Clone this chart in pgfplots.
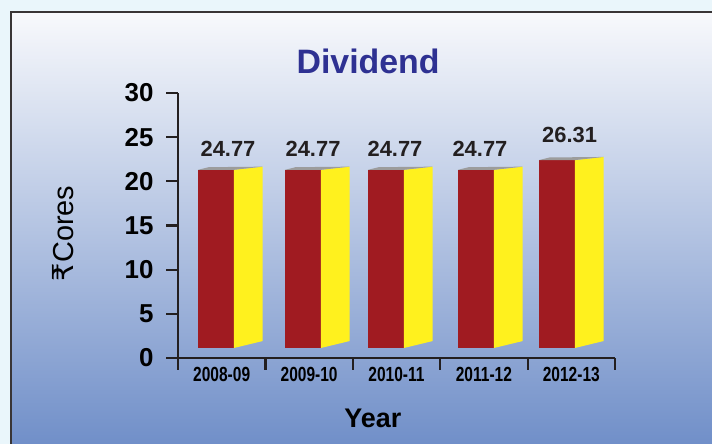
\documentclass[border=0pt]{standalone}
\usepackage{fontspec}
\setmainfont{Liberation Sans}
\newfontfamily\narrowfont[FakeStretch=0.76]{Liberation Sans}
\newfontfamily\symfont{DejaVu Sans}
\usepackage{pgfplots}
\pgfplotsset{compat=1.18}

\definecolor{bgout}{HTML}{EAF6FB}
\definecolor{bgtop}{HTML}{F8F9FC}
\definecolor{bgmid}{HTML}{BAC6E5}
\definecolor{bgbot}{HTML}{6F8EC8}
\definecolor{frontred}{HTML}{A01B21}
\definecolor{sideyellow}{HTML}{FFF11E}
\definecolor{topgrey}{HTML}{9C9C9C}
\definecolor{titleblue}{HTML}{2E3192}
\definecolor{ink}{HTML}{231F20}

\begin{document}
\begin{tikzpicture}[x=1bp,y=1bp]
\useasboundingbox (0,0) rectangle (712,444);
\fill[bgout] (0,0) rectangle (712,444);
\shade[top color=bgtop, middle color=bgmid, bottom color=bgbot] (11,-5) rectangle (720,432);
\draw[ink!90, line width=2bp] (11,-5) -- (11,432) -- (720,432);

\begin{axis}[
    at={(178bp,86bp)}, anchor=south west,
    scale only axis,
    width=437bp, height=265bp,
    xmin=0, xmax=5,
    ymin=0, ymax=30,
    axis lines*=left,
    axis line style={ink, line width=2.2bp},
    tick style={ink, line width=2.2bp},
    tick align=outside,
    major tick length=12bp,
    xtick={0,...,5},
    x tick label as interval,
    xticklabels={2008-09,2009-10,2010-11,2011-12,2012-13},
    ytick={0,5,...,30},
    /pgf/number format/assume math mode=true,
    yticklabel style={font=\fontsize{26}{26}\selectfont\bfseries, text=black, xshift=-9bp},
    xticklabel style={font=\narrowfont\fontsize{20.5}{20.5}\selectfont\bfseries, text=black, yshift=6bp},
    title={Dividend},
    title style={at={(axis description cs:0.435,1.098)}, anchor=center,
        font=\fontsize{34}{34}\selectfont\bfseries, text=titleblue},
    xlabel={Year},
    xlabel style={at={(axis description cs:0.446,-0.226)}, anchor=center,
        font=\fontsize{27}{27}\selectfont\bfseries, text=black},
    ylabel={{\symfont ₹}Cores},
    ylabel style={at={(axis description cs:-0.263,0.47)}, anchor=center,
        font=\fontsize{29}{29}\selectfont, text=black},
    clip=false,
]
% bars: left edge of front face / top of bar (as drawn)
\pgfplotsforeachungrouped \barL/\barH in {0.229/21.3, 1.224/21.3, 2.174/21.3, 3.204/21.3, 4.130/22.4}{
    \pgfmathsetmacro\barR{\barL+0.41}
    \pgfmathsetmacro\sideR{\barL+0.74}
    \pgfmathsetmacro\sideT{\barH+0.36}
    \pgfmathsetmacro\topX{\barL+0.12}
    \pgfmathsetmacro\topY{\barH+0.30}
    \edef\drawbar{%
        \noexpand\addplot[draw=none, fill=frontred] coordinates
            {(\barL,1.13) (\barR,1.13) (\barR,\barH) (\barL,\barH)} -- cycle;
        \noexpand\addplot[draw=none, fill=sideyellow] coordinates
            {(\barR,1.13) (\sideR,1.92) (\sideR,\sideT) (\barR,\barH)} -- cycle;
        \noexpand\addplot[draw=none, fill=topgrey] coordinates
            {(\barL,\barH) (\barR,\barH) (\sideR,\sideT) (\topX,\topY)} -- cycle;
    }\drawbar
}
% value labels
\addplot[draw=none, mark=none, point meta=y,
    nodes near coords,
    nodes near coords style={anchor=center, yshift=-9.5bp,
        font=\fontsize{22}{22}\selectfont\bfseries, text=ink,
        /pgf/number format/.cd, fixed, precision=2, fixed zerofill, assume math mode=true}]
    coordinates {(0.572,24.77) (1.545,24.77) (2.483,24.77) (3.455,24.77) (4.48,26.31)};
\end{axis}
\end{tikzpicture}
\end{document}
